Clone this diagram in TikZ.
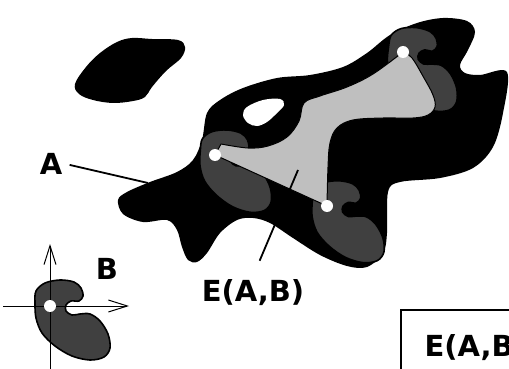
\documentclass[tikz,border=0pt]{standalone}
\usepackage{fontspec}
\setmainfont{DejaVu Sans}
\usetikzlibrary{arrows.meta}
\definecolor{BodyGray}{gray}{0.25}
\definecolor{ContactGray}{gray}{0.75}

\begin{document}
\begin{tikzpicture}[x=1pt, y=-1pt, font=\fontsize{29}{34}\selectfont\bfseries]
  \tikzset{
    obst/.style={fill=black},
    body/.style={fill=BodyGray, draw=black, line width=1.6pt},
    contact/.style={fill=ContactGray, draw=black, line width=1pt, line join=round},
    dot/.style={circle, fill=white, inner sep=0pt, minimum size=12pt},
    lbl/.style={line width=1.8pt},
    axis/.style={line width=1pt, -{Straight Barb[length=19pt,width=12pt]}},
    bean/.pic={
      \path[body] plot[smooth cycle, tension=0.55] coordinates {
        (-14,-15) (-5,-23) (10,-26) (24,-24) (31,-18) (33,-10) (29,-5)
        (21,-5) (16,-1) (16,5) (22,9) (30,8) (40,8) (50,15) (58,28)
        (60,42) (54,51) (40,54) (22,50) (5,40) (-8,27) (-14,12) (-15,-3)};
    }
  }
  \useasboundingbox (0,0) rectangle (509,369);
  \clip (0,0) rectangle (509,369);

  % contact points of the moving body
  \coordinate (p1) at (215,155);
  \coordinate (p2) at (403,52);
  \coordinate (p3) at (327,206);

  % obstacles
  \fill[obst] plot[smooth cycle, tension=0.6] coordinates {
    (75,84) (86,67) (100,53) (117,42) (132,38) (152,39) (178,40) (185,47)
    (181,58) (166,71) (152,87) (145,97) (133,101) (113,103) (93,100) (79,94)};
  \fill[obst] plot[smooth cycle, tension=0.55] coordinates {
    (118,200) (127,192) (150,182) (177,172) (193,160) (202,140) (207,113)
    (220,100) (243,88) (277,78) (310,75) (343,67) (367,53) (390,35) (417,23)
    (443,18) (467,21) (475,32) (468,50) (460,65) (465,73) (480,75) (507,72)
    (503,113) (493,147) (473,168) (440,178) (400,182) (388,192) (387,233)
    (383,253) (367,267) (347,266) (320,255) (293,238) (270,223) (253,218)
    (237,220) (220,233) (207,253) (197,262) (188,260) (182,247) (177,230)
    (167,220) (143,222) (123,214)};
  \fill[white] plot[smooth cycle, tension=0.6] coordinates {
    (243,115) (247,107) (263,100) (280,99) (284,105) (277,113) (267,122)
    (257,126) (248,123)};

  % body placed at the contacts
  \pic[rotate=-5] at (p1) {bean};
  \pic[rotate=-8] at (p2) {bean};
  \pic[rotate=-4] at (p3) {bean};

  % contact region E(A,B)
  \path[contact] (p1) -- (221,144)
    -- plot[smooth, tension=0.6] coordinates {
      (221,144) (248,148) (268,146) (287,137) (299,121) (304,103) (320,96)
      (347,87) (373,74) (403,52)}
    -- plot[smooth, tension=0.6] coordinates {
      (403,52) (412,58) (424,78) (433,95) (435,107) (428,115) (413,118)
      (383,118) (353,120) (337,128) (330,143) (328,167) (327,206)}
    -- cycle;

  \node[dot] (d1) at (p1) {};
  \node[dot] (d2) at (p2) {};
  \node[dot] (d3) at (p3) {};

  % labels
  \node (A) at (51,164) {A};
  \coordinate (aedge) at (148,183);
  \draw[lbl, shorten <=4pt] (A.east) -- (aedge);
  \node (E) at (253,293) {E(A,B)};
  \coordinate (ein) at (298,170);
  \draw[lbl, shorten <=17pt] (E.north) -- (ein);

  % the body B in its own frame
  \coordinate (o) at (50,306);
  \pic at (o) {bean};
  \coordinate (xend) at (129,306);
  \coordinate (yend) at (50,244);
  \coordinate (xstart) at (3,306);
  \coordinate (ystart) at (50,375);
  \draw[axis] (xstart) -- (xend);
  \draw[axis] (ystart) -- (yend);
  \node[dot] (d0) at (o) {};
  \node (B) at (107,269) {B};

  % legend box
  \node[draw, line width=1.5pt, anchor=north west, inner xsep=18pt,
    inner ysep=25pt, minimum width=150pt] (key) at (400,309) {E(A,B)};
\end{tikzpicture}
\end{document}
